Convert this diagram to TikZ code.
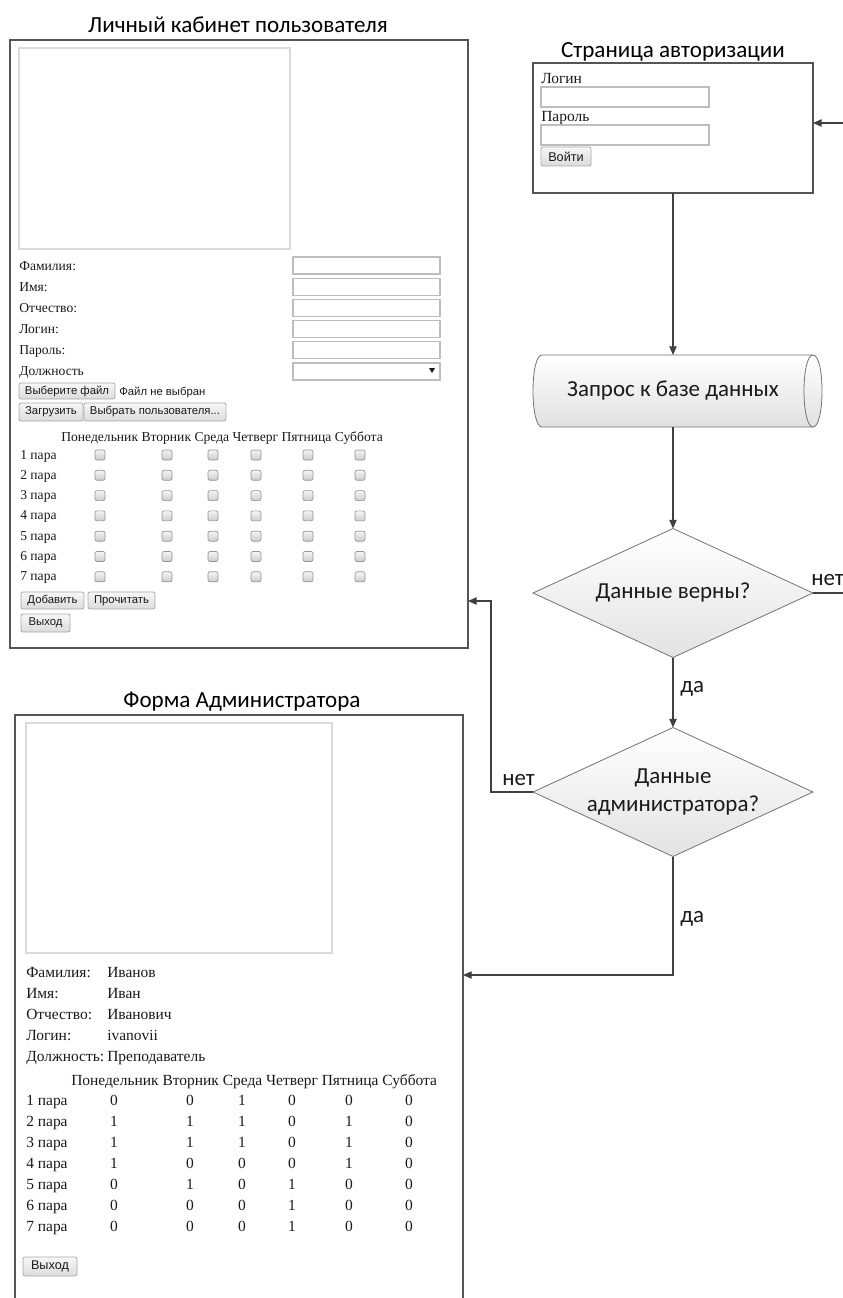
\documentclass[tikz,border=0pt]{standalone}
\usepackage{fontspec}
\setmainfont{Liberation Serif}
\newfontfamily\calfont{Carlito}
\newfontfamily\uifont{Liberation Sans}
\usetikzlibrary{shapes.geometric,arrows.meta}

\definecolor{frame}{HTML}{555555}
\definecolor{conn}{HTML}{404040}
\definecolor{ink}{HTML}{1A1A1A}
\definecolor{phold}{HTML}{DADADA}
\definecolor{fieldedge}{HTML}{BDBDBD}
\definecolor{btnedge}{HTML}{A8A8A8}

\tikzset{
  sz/.style 2 args={minimum width=#1*0.75pt, minimum height=#2*0.75pt, inner sep=0pt, outer sep=0pt},
  formbox/.style={draw=frame, line width=1.1pt, fill=white, anchor=north west},
  photo/.style={draw=phold, line width=0.9pt, anchor=north west},
  field/.style={draw=fieldedge, line width=0.8pt, fill=white, anchor=north west},
  btn/.style={draw=btnedge, line width=0.6pt, rounded corners=1.5pt,
    top color=white!97!black, bottom color=white!86!black,
    font=\uifont\fontsize{8.5}{10}\selectfont, text=ink, anchor=north west},
  cbox/.style={draw=white!58!black, line width=0.5pt, rounded corners=1.5pt,
    top color=white!96!black, bottom color=white!80!black, sz={10}{10}},
  lbl/.style={font=\fontsize{10.2}{12}\selectfont, text=ink, inner sep=0pt, anchor=base west},
  lblb/.style={font=\fontsize{11.6}{13}\selectfont, text=ink, inner sep=0pt, anchor=base west},
  lblc/.style={lblb, anchor=base},
  lbla/.style={font=\fontsize{11.6}{13}\selectfont, text=ink, inner sep=0pt, anchor=base west},
  uitext/.style={font=\uifont\fontsize{8.5}{10}\selectfont, text=ink, inner sep=0pt, anchor=base west},
  heading/.style={font=\calfont\fontsize{17.3}{20}\selectfont, text=black, inner sep=0pt, anchor=base},
  flow/.style={font=\calfont\fontsize{17.2}{21}\selectfont, text=ink, align=center},
  flowlbl/.style={font=\calfont\fontsize{17.2}{20}\selectfont, text=ink, inner sep=0pt, anchor=base west},
  decision/.style={diamond, draw=white!45!black, line width=0.6pt,
    top color=white, bottom color=white!89!black, sz={280}{129}},
  link/.style={draw=conn, line width=0.9pt},
  arr/.style={link, -{Triangle[length=6.5pt,width=5.5pt]}},
}

\begin{document}
\begin{tikzpicture}[x=0.75pt,y=-0.75pt]
\useasboundingbox[fill=white] (0,0) rectangle (842,1298);

% ---------------- user cabinet ----------------
\node[heading] (t1) at (238,33) {Личный кабинет пользователя};
\node[formbox, sz={458}{608}] (f1) at (10,40) {};
\node[photo, sz={271}{201}] (ph1) at (19,48) {};
\foreach \lab [count=\i from 0] in {Фамилия:,Имя:,Отчество:,Логин:,Пароль:,Должность}{
  \node[lbl] (f1l\i) at (19,{270+21*\i}) {\lab};
}
\foreach \i in {0,...,5}{
  \node[field, sz={147}{17}] (f1in\i) at (293,{257+21.2*\i}) {};
}
\fill[ink] (429,368) -- (435,368) -- (432,373) -- cycle;
\node[btn, sz={96}{16}] (bfile) at (19,383) {Выберите файл};
\node[uitext] (nofile) at (119,395) {Файл не выбран};
\node[btn, sz={64}{18}] (bload) at (19,403) {Загрузить};
\node[btn, sz={142}{18}] (bpick) at (84,403) {Выбрать пользователя...};
\node[lbl] (hd1) at (61,441) {Понедельник Вторник Среда Четверг Пятница Суббота};
\foreach \r in {1,...,7}{
  \node[lbl] (f1r\r) at (20,{459+20.3*(\r-1)}) {\r{} пара};
  \foreach \x [count=\c] in {100,167,213,256,308,360}{
    \node[cbox] (cb\r-\c) at (\x,{455+20.3*(\r-1)}) {};
  }
}
\node[btn, sz={63}{17}] (badd) at (21,592) {Добавить};
\node[btn, sz={67}{17}] (bread) at (88,592) {Прочитать};
\node[btn, sz={49}{18}] (bexit1) at (21,614) {Выход};

% ---------------- login page ----------------
\node[heading] (t2) at (673,58) {Страница авторизации};
\node[formbox, sz={280}{130}] (auth) at (533,63) {};
\node[lbla] (alog) at (541,84) {Логин};
\node[field, sz={168}{20}] (ain1) at (541,87) {};
\node[lbla] (apas) at (541,122) {Пароль};
\node[field, sz={168}{20}] (ain2) at (541,125) {};
\node[btn, sz={50}{19}, font=\uifont\fontsize{9.5}{11}\selectfont] (blogin) at (541,147) {Войти};

% ---------------- database request ----------------
\path[draw=white!45!black, line width=0.6pt, top color=white, bottom color=white!88!black]
  (542,355) -- (813,355) .. controls (825,355) and (825,427) .. (813,427)
  -- (542,427) .. controls (530,427) and (530,355) .. (542,355) -- cycle;
\draw[white!45!black, line width=0.6pt] (813,355) .. controls (801,355) and (801,427) .. (813,427);
\node[flow, sz={270}{72}] (db) at (673,391) {Запрос к базе данных};

% ---------------- decisions ----------------
\node[decision] (d1) at (673,593) {};
\node[flow] at (d1) {Данные верны?};
\node[decision] (d2) at (673,792) {};
\node[flow] at (d2) {Данные\\администратора?};

% ---------------- admin form ----------------
\node[heading] (t3) at (242,707) {Форма Администратора};
\node[formbox, sz={448}{600}] (f2) at (15,715) {};
\node[photo, sz={306}{230}] (ph2) at (26,723) {};
\foreach \lab/\val [count=\i from 0] in {Фамилия:/Иванов,Имя:/Иван,Отчество:/Иванович,Логин:/ivanovii,Должность:/Преподаватель}{
  \node[lblb] (f2l\i) at (26,{977+21*\i}) {\lab};
  \node[lblb] (f2v\i) at (107,{977+21*\i}) {\val};
}
\node[lblb] (hd2) at (71,1085) {Понедельник Вторник Среда Четверг Пятница Суббота};
\def\colx{{114,190,242,292,349,409}}
\foreach \r/\vals in {1/{0,0,1,0,0,0},2/{1,1,1,0,1,0},3/{1,1,1,0,1,0},4/{1,0,0,0,1,0},5/{0,1,0,1,0,0},6/{0,0,0,1,0,0},7/{0,0,0,1,0,0}}{
  \node[lblb] (f2r\r) at (26,{1105+21*(\r-1)}) {\r{} пара};
  \foreach \v [count=\c] in \vals{
    \pgfmathsetmacro\xc{\colx[\c-1]}
    \node[lblc] (v\r-\c) at (\xc,{1105+21*(\r-1)}) {\v};
  }
}
\node[btn, sz={54}{19}, font=\uifont\fontsize{9.5}{11}\selectfont] (bexit2) at (23,1257) {Выход};

% ---------------- connectors ----------------
\coordinate (loop) at (852,123);
\coordinate (back) at (491,601);
\coordinate (admin) at (0,975);
\draw[arr] (auth.south) -- (db.north);
\draw[arr] (db.south) -- (d1.north);
\draw[arr] (d1.south) -- (d2.north);
\draw[arr] (d1.east) -| (loop) -- (auth.east |- loop);
\draw[arr] (d2.west) -| (back) -- (f1.east |- back);
\draw[arr] (d2.south) |- (f2.east |- admin);
\node[flowlbl] (no1) at (811,585) {нет};
\node[flowlbl] (yes1) at (680,692) {да};
\node[flowlbl] (no2) at (502,785) {нет};
\node[flowlbl] (yes2) at (680,922) {да};
\end{tikzpicture}
\end{document}
